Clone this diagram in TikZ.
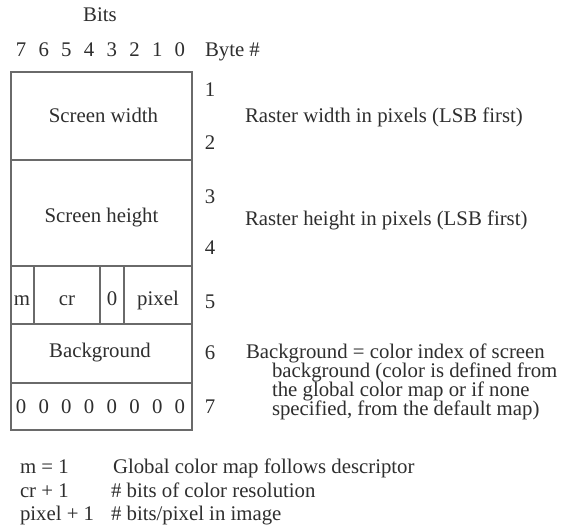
\documentclass[tikz,border=0pt]{standalone}
\usepackage{fontspec}
\setmainfont{Liberation Serif}
\definecolor{ink}{HTML}{2E2E2E}
\definecolor{rule}{HTML}{6A6A6A}
\begin{document}
\begin{tikzpicture}[x=1pt,y=-1pt,
  txt/.style={inner sep=0pt,outer sep=0pt,text=ink,font=\fontsize{20.8}{24}\selectfont},
  lt/.style={txt,anchor=base west},
  ct/.style={txt,anchor=base},
  num/.style={txt,anchor=center},
  fld/.style={draw=rule,line width=1.2pt}]
\useasboundingbox[fill=white] (0,0) rectangle (570,531);
% header
\node[ct] (bits) at (100,21) {Bits};
\foreach \b [count=\i from 0] in {7,6,5,4,3,2,1,0}
  \node[ct] (h\b) at (21+22.7*\i,56) {\b};
\node[lt] (byte) at (205,56) {Byte \#};
% fields
\draw[fld] (11,72) rectangle (192,430);
\draw[fld] (11,160) -- (192,160);
\draw[fld] (11,266) -- (192,266);
\draw[fld] (11,324) -- (192,324);
\draw[fld] (11,383) -- (192,383);
\draw[fld] (34,266) -- (34,324);
\draw[fld] (100,266) -- (100,324);
\draw[fld] (124,266) -- (124,324);
\node[ct] (sw) at (103.5,122) {Screen width};
\node[ct] (sh) at (101.5,222) {Screen height};
\node[ct] (m) at (22,305) {m};
\node[ct] (cr) at (67,305) {cr};
\node[ct] (z) at (112,305) {0};
\node[ct] (px) at (158,305) {pixel};
\node[ct] (bg) at (100,357) {Background};
\foreach \i in {0,...,7}
  \node[ct] (z\i) at (21+22.7*\i,413) {0};
% byte numbers
\node[num] (b1) at (210,90) {1};
\node[num] (b2) at (210,143) {2};
\node[num] (b3) at (210,197) {3};
\node[num] (b4) at (210,248) {4};
\node[num] (b5) at (210,302) {5};
\node[num] (b6) at (210,353) {6};
\node[num] (b7) at (210,407) {7};
% descriptions
\node[lt] (d1) at (245,122) {Raster width in pixels (LSB first)};
\node[lt] (d2) at (245,225) {Raster height in pixels (LSB first)};
\node[lt] (d3) at (246,358) {Background = color index of screen};
\node[lt] (d4) at (272,377) {background (color is defined from};
\node[lt] (d5) at (272,396) {the global color map or if none};
\node[lt] (d6) at (272,415) {specified, from the default map)};
% legend
\node[lt] (l1) at (20,473) {m = 1};
\node[lt] (l2) at (20,497) {cr + 1};
\node[lt] (l3) at (20,520) {pixel + 1};
\node[lt] (r1) at (113,473) {Global color map follows descriptor};
\node[lt] (r2) at (111,497) {\# bits of color resolution};
\node[lt] (r3) at (111,520) {\# bits/pixel in image};
\end{tikzpicture}
\end{document}
